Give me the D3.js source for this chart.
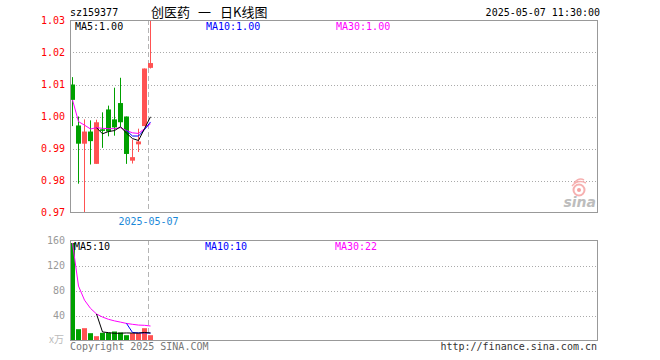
<!DOCTYPE html>
<html><head><meta charset="utf-8">
<script src="https://cdn.jsdelivr.net/npm/d3@7/dist/d3.min.js"></script>
<style>
html,body{margin:0;padding:0;background:#fff;}
svg{display:block;}
text{font-family:"DejaVu Sans Mono",monospace;font-size:10px;}
</style></head>
<body><svg id="c" width="660" height="360"></svg>
<script>
// ---- data ----
const dates = ["2025-04-15","2025-04-16","2025-04-17","2025-04-18","2025-04-21","2025-04-22","2025-04-23","2025-04-24","2025-04-25","2025-04-28","2025-04-29","2025-04-30","2025-05-06","2025-05-07"];
const open  = [1.0100,0.9972,0.9915,0.9953,0.9852,0.9960,1.0022,0.9991,1.0042,1.0000,0.9862,0.9913,0.9970,1.0152];
const high  = [1.0123,1.0000,0.9991,0.9988,0.9990,1.0013,1.0034,1.0090,1.0121,1.0000,0.9928,0.9962,1.0150,1.0320];
const low   = [0.9970,0.9790,0.9700,0.9850,0.9852,0.9902,0.9938,0.9940,0.9968,0.9852,0.9853,0.9889,0.9970,1.0150];
const close = [1.0052,0.9915,0.9953,0.9923,0.9982,0.9955,0.9953,0.9966,0.9982,0.9883,0.9873,0.9922,1.0150,1.0167];
const volume = [156,18.1,19.7,11.7,6.9,12.3,12.3,14.4,12.8,8.5,11.7,11.7,19.7,8.5];
const priceMA5  = [null,null,null,null,0.9965,0.9946,0.9953,0.9956,0.9968,0.9948,0.9931,0.9925,0.9962,0.9999];
const priceMA10 = [null,null,null,null,null,null,null,null,null,0.9956,0.9939,0.9939,0.9959,0.9983];
const priceMA30 = [1.0052,0.9984,0.9973,0.9961,0.9965,0.9963,0.9962,0.9962,0.9965,0.9956,0.9949,0.9947,0.9962,0.9977];
const volMA5  = [null,null,null,null,42.5,13.7,12.6,11.5,11.7,12.1,11.9,11.8,12.9,12.0];
const volMA10 = [null,null,null,null,null,null,null,null,null,27.3,12.8,12.2,12.2,11.9];
const volMA30 = [156,87.1,64.6,51.4,42.5,37.5,33.9,31.4,29.4,27.3,25.9,24.7,24.3,23.2];
const priceTicks = [0.97,0.98,0.99,1.00,1.01,1.02,1.03];
const volTicks = [40,80,120,160];
const priceLabels = ["MA5:1.00","MA10:1.00","MA30:1.00"];
const volLabels = ["MA5:10","MA10:10","MA30:22"];
const titleCode = "sz159377";
const titleName = ["创医药","一","日K线图"];
const timeStamp = "2025-05-07 11:30:00";

// ---- layout ----
const svg = d3.select("#c");
const L = 70, R = 597;
const pTop = 20, pBot = 212, vTop = 240, vBot = 340;
const RED = "#ff5252", GREEN = "#00a000", GRID = "#aaa", FRAME = "#999";
const slots = 88;
const x = d3.scaleLinear().domain([0, slots]).range([L, L + 6*slots]);
const yP = d3.scaleLinear().domain([0.97, 1.03]).range([pBot + 0.5, pTop + 0.5]);
const yV = d3.scaleLinear().domain([0, 160]).range([vBot + 0.5, vTop + 0.5]);
const cx = i => x(i) + 2.5;

const defs = svg.append("defs");
defs.append("clipPath").attr("id","cp").append("rect").attr("x",L).attr("y",pTop).attr("width",R-L+1).attr("height",pBot-pTop+1);
defs.append("clipPath").attr("id","cv").append("rect").attr("x",L).attr("y",vTop).attr("width",R-L+1).attr("height",vBot-vTop+1);

// titles
svg.append("text").attr("x",L).attr("y",16).attr("fill","#000").text(titleCode);
const tx = [151, 198, 220];
titleName.forEach((t,i)=>svg.append("text").attr("x",tx[i]).attr("y",17).attr("fill","#000")
  .style("font-family","'Noto Sans CJK SC',sans-serif").style("font-size","13px").text(t));
svg.append("text").attr("x",R+3).attr("y",16).attr("text-anchor","end").attr("fill","#000").text(timeStamp);

// ---- price panel ----
const gp = svg.append("g");
// grid
gp.selectAll("line.g").data(priceTicks.filter(t=>t>0.975 && t<1.025)).join("line")
  .attr("x1",L).attr("x2",R).attr("y1",d=>Math.round(yP(d))+0.5).attr("y2",d=>Math.round(yP(d))+0.5)
  .attr("stroke",GRID).attr("stroke-dasharray","1,2").attr("shape-rendering","crispEdges");
// y labels
const ayP = d3.axisLeft(yP).tickValues(priceTicks).tickFormat(d3.format(".2f")).tickSize(0).tickPadding(4);
const gax = svg.append("g").attr("transform",`translate(${L},0)`).call(ayP);
gax.select(".domain").remove();
gax.selectAll("text").attr("fill","#f00").style("font-family","'DejaVu Sans Mono',monospace").style("font-size","10px").attr("x",-5);

// dashed current-day line
const dx = Math.round(x(dates.length-1)) + 0.5;
svg.append("line").attr("x1",dx).attr("x2",dx).attr("y1",pTop).attr("y2",pBot).attr("stroke","#b4b4b4").attr("stroke-dasharray","5,3");
svg.append("line").attr("x1",dx).attr("x2",dx).attr("y1",vTop).attr("y2",vBot).attr("stroke","#b4b4b4").attr("stroke-dasharray","5,3");

// watermark logo
const wm = svg.append("g");
wm.append("circle").attr("cx",579).attr("cy",190).attr("r",5.5).attr("fill","none").attr("stroke","#f6b0b0").attr("stroke-width",2);
wm.append("circle").attr("cx",579).attr("cy",190).attr("r",2).attr("fill","#f6a0a0");
wm.append("path").attr("d","M572,186 Q578,179 586,183 M574,183 Q579,177 584,180").attr("fill","none").attr("stroke","#f6b0b0").attr("stroke-width",1.5);
wm.append("text").attr("x",596).attr("y",207).attr("text-anchor","end").attr("fill","#bdbdbd")
  .style("font-family","'DejaVu Sans',sans-serif").style("font-size","14px").style("font-weight","bold").style("font-style","italic").text("sina");

// candles
const gc = svg.append("g").attr("clip-path","url(#cp)");
const idx = d3.range(dates.length);
gc.selectAll("line.w").data(idx).join("line")
  .attr("x1",i=>cx(i)).attr("x2",i=>cx(i)).attr("y1",i=>yP(high[i])).attr("y2",i=>yP(low[i]))
  .attr("stroke",i=>close[i]>=open[i]?RED:GREEN).attr("stroke-width",1);
gc.selectAll("rect.b").data(idx).join("rect")
  .attr("x",i=>x(i)).attr("width",5)
  .attr("y",i=>Math.min(yP(open[i]),yP(close[i])))
  .attr("height",i=>Math.max(1,Math.abs(yP(open[i])-yP(close[i]))))
  .attr("fill",i=>close[i]>=open[i]?RED:GREEN);
// MA lines
function maLine(g, arr, ys, color){
  const ln = d3.line().defined(d=>d!=null).x((d,i)=>cx(i)).y(d=>ys(d));
  g.append("path").datum(arr).attr("d",ln).attr("fill","none").attr("stroke",color).attr("stroke-width",1);
}
maLine(gc, priceMA30, yP, "#f0f");
maLine(gc, priceMA10, yP, "#00f");
maLine(gc, priceMA5, yP, "#000");

// frame
svg.append("rect").attr("x",L+0.5).attr("y",pTop+0.5).attr("width",R-L).attr("height",pBot-pTop).attr("fill","none").attr("stroke",FRAME);
// MA labels
const lx = [75, 206, 336], lc = ["#000","#00f","#f0f"];
priceLabels.forEach((t,i)=>svg.append("text").attr("x",lx[i]).attr("y",30).attr("fill",lc[i]).text(t));
// date label
svg.append("text").attr("x",dx).attr("y",225).attr("text-anchor","middle").attr("fill","#1a88d8").text(dates[dates.length-1]);

// ---- volume panel ----
svg.selectAll("line.vg").data(volTicks.filter(t=>t<160)).join("line")
  .attr("x1",L).attr("x2",R).attr("y1",d=>Math.round(yV(d))+0.5).attr("y2",d=>Math.round(yV(d))+0.5)
  .attr("stroke",GRID).attr("stroke-dasharray","1,2").attr("shape-rendering","crispEdges");
const ayV = d3.axisLeft(yV).tickValues(volTicks).tickFormat(d3.format("d")).tickSize(0).tickPadding(4);
const gav = svg.append("g").attr("transform",`translate(${L},0)`).call(ayV);
gav.select(".domain").remove();
gav.selectAll("text").attr("fill","#999").style("font-family","'DejaVu Sans Mono',monospace").style("font-size","10px").attr("x",-5);
svg.append("text").attr("x",64).attr("y",343).attr("text-anchor","end").attr("fill","#bbb")
  .style("font-family","'Noto Sans CJK SC',sans-serif").style("font-size","10px").text("x万");

const gv = svg.append("g").attr("clip-path","url(#cv)");
gv.selectAll("rect").data(idx).join("rect")
  .attr("x",i=>x(i)).attr("width",5)
  .attr("y",i=>yV(volume[i])).attr("height",i=>yV(0)-yV(volume[i]))
  .attr("fill",i=>close[i]>=open[i]?RED:GREEN);
maLine(gv, volMA30, yV, "#f0f");
maLine(gv, volMA10, yV, "#00f");
maLine(gv, volMA5, yV, "#000");
svg.append("rect").attr("x",L+0.5).attr("y",vTop+0.5).attr("width",R-L).attr("height",vBot-vTop).attr("fill","none").attr("stroke",FRAME);
volLabels.forEach((t,i)=>svg.append("text").attr("x",lx[i]-1).attr("y",250).attr("fill",lc[i]).text(t));

// footer
svg.append("text").attr("x",L).attr("y",350).attr("fill","#777").text("Copyright 2025 SINA.COM");
svg.append("text").attr("x",R).attr("y",350).attr("text-anchor","end").attr("fill","#333").text("http://finance.sina.com.cn");
</script></body></html>
